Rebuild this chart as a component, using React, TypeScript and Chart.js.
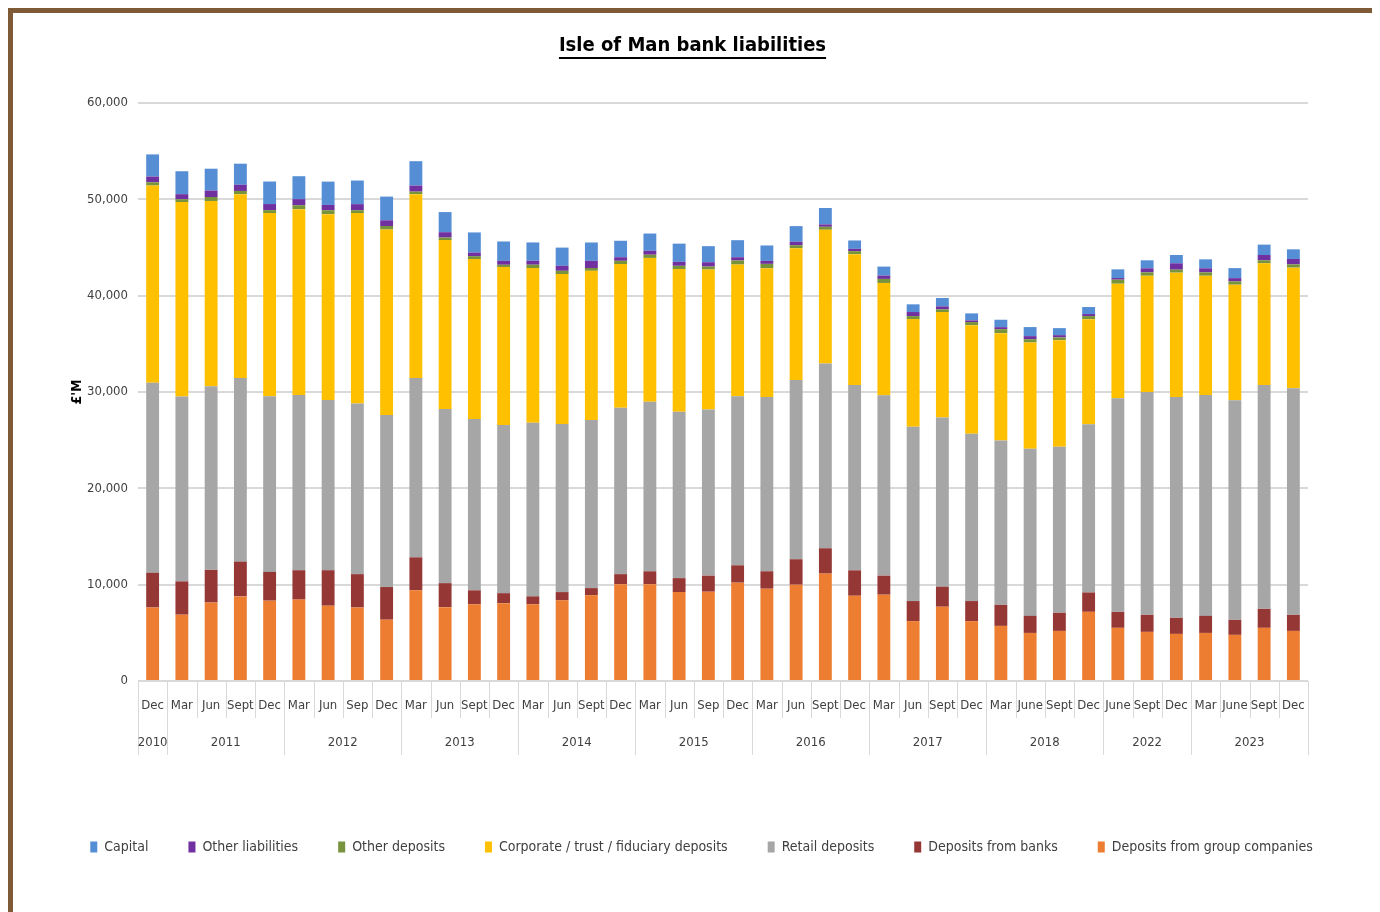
import React, { useEffect, useRef } from 'react';
import { Chart, registerables } from 'chart.js';

Chart.register(...registerables);

const FONT = "'Liberation Sans Narrow', 'Arial Narrow', 'DejaVu Sans Condensed', sans-serif";

const titleText = 'Isle of Man bank liabilities';
const yAxisTitle = "£'M";

const monthLabels = [
  'Dec',
  'Mar', 'Jun', 'Sept', 'Dec',
  'Mar', 'Jun', 'Sep', 'Dec',
  'Mar', 'Jun', 'Sept', 'Dec',
  'Mar', 'Jun', 'Sept', 'Dec',
  'Mar', 'Jun', 'Sep', 'Dec',
  'Mar', 'Jun', 'Sept', 'Dec',
  'Mar', 'Jun', 'Sept', 'Dec',
  'Mar', 'June', 'Sept', 'Dec',
  'June', 'Sept', 'Dec',
  'Mar', 'June', 'Sept', 'Dec',
];

const yearLabels = ['2010', '2011', '2012', '2013', '2014', '2015', '2016', '2017', '2018', '2022', '2023'];
const yearSpans = [1, 4, 4, 4, 4, 4, 4, 4, 4, 3, 4];

const yTicks = [0, 10000, 20000, 30000, 40000, 50000, 60000];

// Series values (£ million), bottom of stack to top
const groupCompanies = [
  7630, 6885, 8150, 8780, 8340, 8450, 7815, 7630, 6364, 9420,
  7667, 7964, 8076, 7964, 8374, 8895, 10050, 10050, 9230, 9270,
  10210, 9580, 10000, 11150, 8850, 8960, 6215, 7710, 6215, 5720,
  4990, 5200, 7180, 5520, 5100, 4890, 4990, 4790, 5520, 5200,
];
const banks = [
  3610, 3460, 3390, 3610, 2980, 3050, 3685, 3460, 3390, 3420,
  2490, 1450, 1040, 820, 856, 745, 1040, 1340, 1450, 1670,
  1800, 1810, 2640, 2630, 2640, 1980, 2085, 2080, 2085, 2190,
  1770, 1880, 2010, 1660, 1770, 1670, 1770, 1560, 1970, 1670,
];
const retail = [
  19725, 19200, 19050, 19060, 18240, 18200, 17680, 17710, 17860, 18610,
  18090, 17790, 17450, 18020, 17450, 17450, 17270, 17600, 17270, 17250,
  17540, 18090, 18610, 19170, 19240, 18710, 18090, 17570, 17360, 17060,
  17350, 17230, 17450, 22160, 23130, 22920, 22930, 22790, 23240, 23510,
];
const corporate = [
  20470, 20170, 19240, 19090, 19020, 19280, 19280, 19770, 19250, 19090,
  17530, 16600, 16415, 16070, 15560, 15490, 14920, 14930, 14810, 14520,
  13680, 13370, 13680, 13890, 13580, 11670, 11180, 10940, 11280, 11140,
  11030, 11070, 10920, 11900, 12070, 12910, 12380, 12000, 12630, 12530,
];
const otherDeposits = [
  330, 300, 410, 330, 300, 410, 410, 300, 370, 260,
  260, 300, 225, 340, 340, 290, 340, 330, 340, 310,
  420, 450, 310, 310, 310, 420, 310, 280, 320, 410,
  340, 280, 320, 420, 350, 310, 350, 340, 310, 340,
];
const otherLiabilities = [
  600, 520, 670, 640, 630, 630, 550, 630, 590, 630,
  550, 370, 410, 410, 520, 750, 370, 410, 410, 450,
  340, 310, 350, 250, 240, 340, 420, 310, 170, 210,
  320, 240, 210, 170, 420, 660, 420, 340, 550, 560,
];
const capital = [
  2300, 2380, 2270, 2190, 2340, 2380, 2420, 2450, 2460, 2530,
  2090, 2090, 2010, 1900, 1890, 1900, 1710, 1790, 1890, 1670,
  1770, 1600, 1630, 1700, 870, 940, 800, 870, 730, 770,
  940, 730, 730, 900, 830, 860, 930, 1040, 1080, 1000,
];

const seriesNames = [
  'Deposits from group companies',
  'Deposits from banks',
  'Retail deposits',
  'Corporate / trust / fiduciary deposits',
  'Other deposits',
  'Other liabilities',
  'Capital',
];
const seriesColors = ['#ED7D31', '#953735', '#A6A6A6', '#FFC000', '#77933C', '#7030A0', '#558ED5'];
const seriesData = [groupCompanies, banks, retail, corporate, otherDeposits, otherLiabilities, capital];

const TITLE_SIZE = 20;

const titleUnderline = {
  id: 'titleUnderline',
  afterDraw(chart: any) {
    const tb = chart.titleBlock;
    if (!tb) return;
    const ctx = chart.ctx;
    ctx.save();
    ctx.font = `bold ${TITLE_SIZE}px ${FONT}`;
    const w = ctx.measureText(titleText).width;
    const cx = (tb.left + tb.right) / 2;
    ctx.fillStyle = '#000000';
    ctx.fillRect(cx - w / 2, tb.top + 44, w, 2);
    ctx.restore();
  },
};

// Nudge the legend row to sit where the reference's legend sits
const legendShift = {
  id: 'legendShift',
  afterLayout(chart: any) {
    const lg = chart.legend;
    if (!lg) return;
    lg.left += 9;
    lg.right += 9;
  },
};

const xAxisTable = {
  id: 'xAxisTable',
  afterDraw(chart: any) {
    const { ctx, chartArea, scales } = chart;
    const xs = scales.x;
    const n = monthLabels.length;
    const bottom = chartArea.bottom;
    const bound = (i: number) =>
      i <= 0 ? chartArea.left : i >= n ? chartArea.right : (xs.getPixelForValue(i - 1) + xs.getPixelForValue(i)) / 2;
    const starts = new Set<number>();
    let acc = 0;
    yearSpans.forEach((s) => {
      starts.add(acc);
      acc += s;
    });
    starts.add(acc);
    ctx.save();
    ctx.strokeStyle = '#d9d9d9';
    ctx.lineWidth = 1;
    for (let i = 0; i <= n; i++) {
      const px = Math.round(bound(i)) + 0.5;
      const len = starts.has(i) ? 74 : 37;
      ctx.beginPath();
      ctx.moveTo(px, bottom);
      ctx.lineTo(px, bottom + len);
      ctx.stroke();
    }
    ctx.fillStyle = '#404040';
    ctx.font = `13px ${FONT}`;
    ctx.textAlign = 'center';
    ctx.textBaseline = 'middle';
    acc = 0;
    yearLabels.forEach((lab, k) => {
      const l = bound(acc);
      const r = bound(acc + yearSpans[k]);
      ctx.fillText(lab, (l + r) / 2, bottom + 62);
      acc += yearSpans[k];
    });
    ctx.restore();
  },
};

export default function App() {
  const canvasRef = useRef<HTMLCanvasElement | null>(null);

  useEffect(() => {
    if (!canvasRef.current) return;
    const chart = new Chart(canvasRef.current, {
      type: 'bar',
      data: {
        labels: monthLabels,
        datasets: seriesNames.map((name, i) => ({
          label: name,
          data: seriesData[i],
          backgroundColor: seriesColors[i],
          borderWidth: 0,
          barPercentage: 0.44,
          categoryPercentage: 1,
        })),
      },
      options: {
        animation: false,
        responsive: false,
        layout: { padding: { left: 0, right: 0, top: 0, bottom: 48 } },
        plugins: {
          title: {
            display: true,
            text: titleText,
            color: '#000000',
            font: { family: FONT, size: TITLE_SIZE, weight: 'bold' },
            padding: { top: 21, bottom: 45 },
          },
          legend: {
            position: 'bottom',
            reverse: true,
            labels: {
              boxWidth: 7,
              boxHeight: 11,
              padding: 40,
              color: '#404040',
              font: { family: FONT, size: 14 },
            },
          },
          tooltip: { enabled: false },
        },
        scales: {
          x: {
            stacked: true,
            grid: { display: false, drawTicks: false },
            border: { display: false },
            ticks: {
              autoSkip: false,
              maxRotation: 0,
              minRotation: 0,
              padding: 17,
              color: '#404040',
              font: { family: FONT, size: 13 },
            },
            afterFit: (s: any) => {
              s.height = 119;
            },
          },
          y: {
            stacked: true,
            min: 0,
            max: 60000,
            afterBuildTicks: (s: any) => {
              s.ticks = yTicks.map((v) => ({ value: v }));
            },
            ticks: {
              padding: 10,
              color: '#404040',
              font: { family: FONT, size: 13 },
              callback: (v: any) => Number(v).toLocaleString('en-US'),
            },
            grid: { color: '#d9d9d9', lineWidth: 2, drawTicks: false },
            border: { display: false },
            title: {
              display: true,
              text: yAxisTitle,
              color: '#000000',
              font: { family: FONT, size: 14, weight: 'bold' },
              padding: { top: 55.6, bottom: 0 },
            },
            afterFit: (s: any) => {
              s.width = 125;
            },
          },
          yR: {
            position: 'right',
            display: true,
            grid: { display: false, drawTicks: false },
            border: { display: false },
            ticks: { display: false },
            afterFit: (s: any) => {
              s.width = 64;
            },
          },
        },
      } as any,
      plugins: [titleUnderline, legendShift, xAxisTable],
    });
    return () => chart.destroy();
  }, []);

  return (
    <div
      style={{
        width: 1359,
        height: 899,
        borderTop: '5px solid #7F5A37',
        borderLeft: '5px solid #7F5A37',
        borderRight: '5px solid #7F5A37',
        background: '#ffffff',
        overflow: 'hidden',
      }}
    >
      <canvas ref={canvasRef} width={1359} height={899} style={{ display: 'block', width: 1359, height: 899 }} />
    </div>
  );
}
